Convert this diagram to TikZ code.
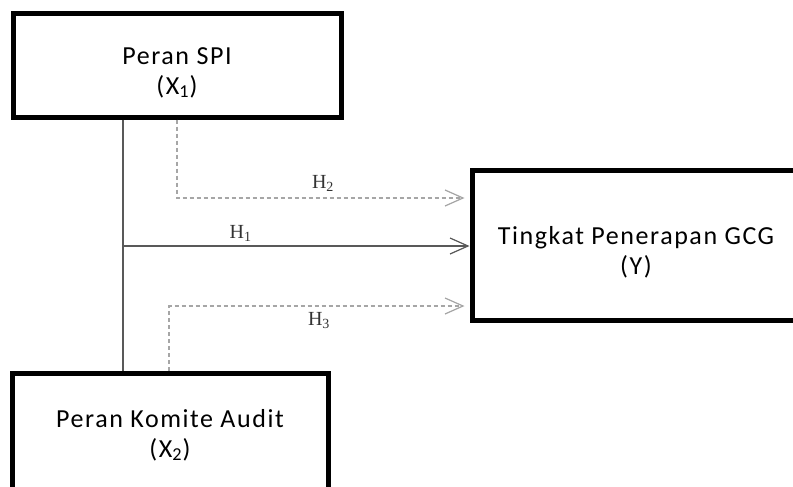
\documentclass[tikz,border=0pt]{standalone}
\usepackage{fontspec}
\setmainfont{Carlito}
\newfontfamily\hfont{Liberation Serif}
\usetikzlibrary{arrows.meta,positioning}
\newcommand{\topstrut}{\rule{0pt}{16pt}}
\tikzstyle{block} = [draw, line width=2.5pt, rectangle, align=center,
    font=\fontsize{13}{15}\selectfont\addfontfeature{LetterSpace=6}]
\tikzstyle{trunk} = [draw=black!65, line width=0.6pt]
\tikzstyle{link} = [draw=black!65, line width=0.6pt,
    -{Straight Barb[length=9pt,width=8pt]}]
\tikzstyle{dlink} = [draw=black!35, line width=0.6pt, dash pattern=on 2pt off 1.5pt,
    -{Straight Barb[length=9pt,width=8pt]}, shorten >=2.5pt]
\tikzstyle{hlabel} = [font=\hfont\fontsize{10}{12}\selectfont, text=black!80, inner sep=2pt]

\begin{document}
\begin{tikzpicture}[x=0.5pt, y=-0.5pt]
    \fill [white] (0,0) rectangle (793,487);
    \useasboundingbox (0,0) rectangle (793,487);
    % boxes
    \node [block, minimum width=164pt, minimum height=52pt] (spi) at (177,65) {\topstrut Peran SPI\\(X\textsubscript{1})};
    \node [block, minimum width=164pt, minimum height=75pt] (gcg) at (636,245) {\topstrut Tingkat Penerapan GCG\\(Y)};
    \node [block, minimum width=158pt, minimum height=62pt] (komite) at (170,435) {Peran Komite Audit\\(X\textsubscript{2})};
    % bends
    \coordinate (h1fork) at (123,246);
    \coordinate (h2bend) at (177,198);
    \coordinate (h3bend) at (169,306);
    \draw [trunk] (spi.south -| h1fork) -- (komite.north -| h1fork);
    \draw [link] (h1fork) -- node [hlabel, above, pos=0.34] {H\textsubscript{1}} (h1fork -| gcg.west);
    \draw [dlink] (spi.south -| h2bend) -- (h2bend)
        -- node [hlabel, above, yshift=1pt] {H\textsubscript{2}} (h2bend -| gcg.west);
    \draw [dlink] (komite.north -| h3bend) -- (h3bend)
        -- node [hlabel, below, yshift=-1pt] {H\textsubscript{3}} (h3bend -| gcg.west);
\end{tikzpicture}
\end{document}
